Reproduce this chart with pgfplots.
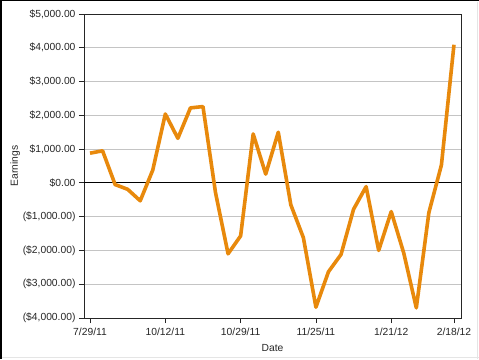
\documentclass[border=0pt]{standalone}
\usepackage{pgfplots}
\pgfplotsset{compat=1.18}
\usepackage{fontspec}
\setmainfont{Liberation Sans}
\definecolor{lineor}{HTML}{E8890C}
\definecolor{gridg}{HTML}{C4C4C4}
\definecolor{txt}{HTML}{262626}
\begin{document}
\begin{tikzpicture}
\path[use as bounding box] (-84pt,-41pt) rectangle (395pt,318pt);
\fill[white] (-84pt,-41pt) rectangle (395pt,318pt);
\draw[black,line width=2pt] (-83pt,-41pt) -- (-83pt,318pt);
\draw[black,line width=1pt] (-84pt,317.5pt) -- (395pt,317.5pt);
\draw[gray!20,line width=0.8pt] (393pt,-41pt) -- (393pt,316pt);
\draw[gray!20,line width=0.8pt] (-82pt,-39.5pt) -- (395pt,-39.5pt);
\begin{axis}[
  at={(0,0)}, anchor=south west,
  scale only axis, width=377pt, height=304pt,
  xmin=-0.48, xmax=29.56,
  ymin=-4000, ymax=5000,
  axis line style={draw=txt, line width=0.9pt},
  xtick={0,6,12,18,24,29},
  xticklabels={7/29/11,10/12/11,10/29/11,11/25/11,1/21/12,2/18/12},
  ytick={-4000,-3000,-2000,-1000,0,1000,2000,3000,4000,5000},
  yticklabels={{(\$4,000.00)},{(\$3,000.00)},{(\$2,000.00)},{(\$1,000.00)},{\$0.00},{\$1,000.00},{\$2,000.00},{\$3,000.00},{\$4,000.00},{\$5,000.00}},
  tick align=outside, tick pos=left,
  major tick length=5pt,
  tick style={draw=txt, line width=0.8pt},
  ymajorgrids, grid style={gridg, line width=0.8pt},
  ticklabel style={font=\fontsize{10.3}{12}\selectfont, text=txt},
  xticklabel style={yshift=-2pt},
  xlabel={Date}, ylabel={Earnings},
  label style={font=\fontsize{10.3}{12}\selectfont, text=txt},
  xlabel style={yshift=-1pt},
  ylabel style={yshift=-4pt},
  clip=false,
]
\draw[black, line width=0.9pt] (axis cs:-0.48,0) -- (axis cs:29.56,0);
\addplot[lineor, line width=3.6pt, line join=round, no markers] coordinates {
(0,880) (1,950) (2,-50) (3,-190) (4,-530) (5,380) (6,2040) (7,1320)
(8,2220) (9,2260) (10,-290) (11,-2100) (12,-1570) (13,1450) (14,260)
(15,1500) (16,-650) (17,-1620) (18,-3680) (19,-2630) (20,-2120)
(21,-780) (22,-110) (23,-2000) (24,-850) (25,-2080) (26,-3700)
(27,-880) (28,530) (29,4090)
};
\end{axis}
\end{tikzpicture}
\end{document}
